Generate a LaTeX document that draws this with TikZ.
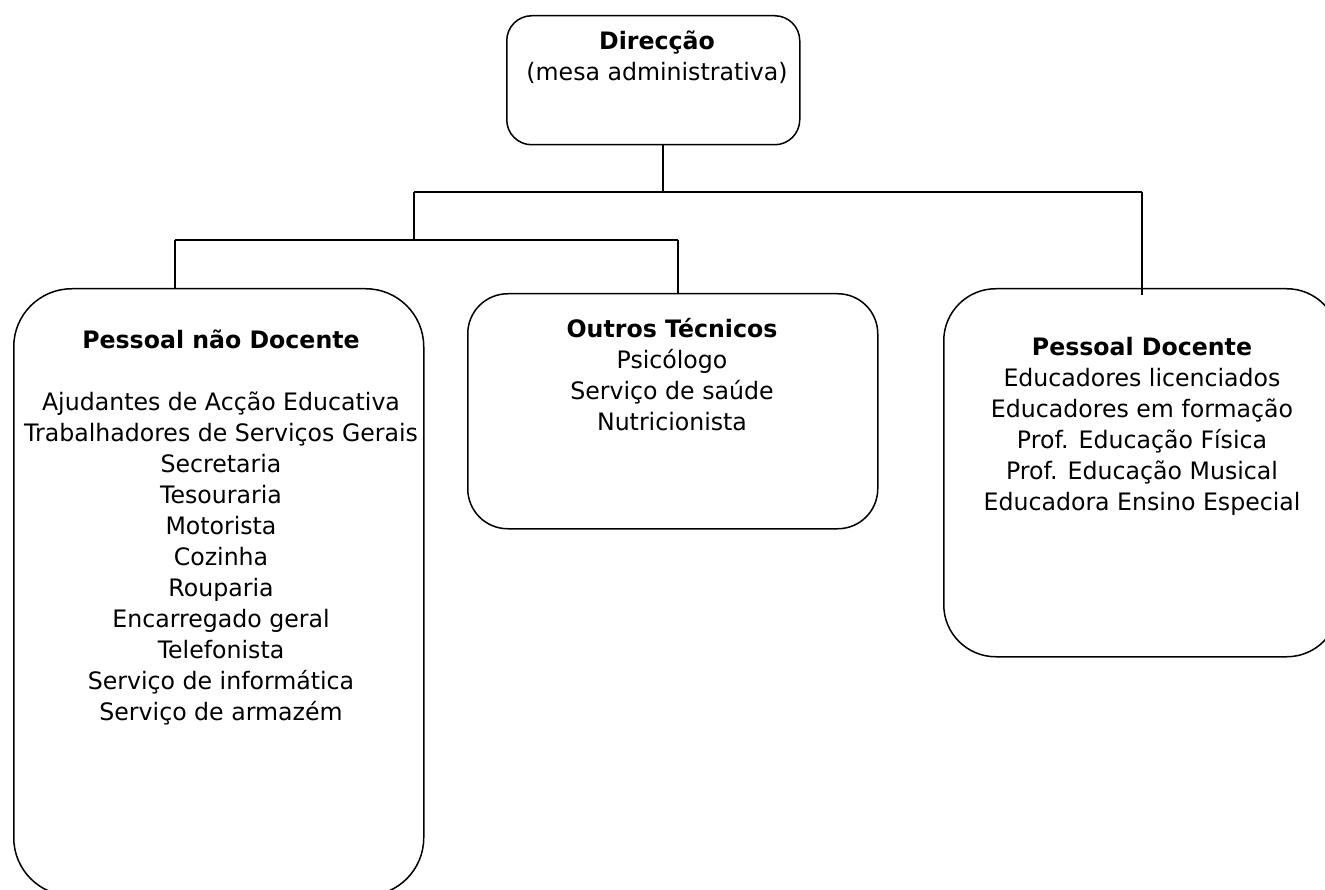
\documentclass[tikz,border=0pt]{standalone}
\usepackage{fontspec}
\setmainfont{DejaVu Sans}[FakeStretch=0.985]
\begin{document}
\begin{tikzpicture}[x=1pt,y=-1pt,
  box/.style={draw,line width=1.5pt,inner sep=0pt,anchor=north west},
  txt/.style={align=center,inner sep=0pt,font=\fontsize{24}{31}\selectfont},
  conn/.style={draw,line width=1.4pt}]
\useasboundingbox (0,0) rectangle (1325,890);
% boxes
\node[box,rounded corners=25pt,minimum width=293pt,minimum height=129pt] (dir) at (506,15) {};
\node[box,rounded corners=58pt,minimum width=410pt,minimum height=607pt] (pnd) at (13,288) {};
\node[box,rounded corners=40pt,minimum width=410pt,minimum height=235pt] (ot) at (467,293) {};
\node[box,rounded corners=52pt,minimum width=395pt,minimum height=368pt] (pd) at (943,288) {};
% texts
\node[txt] (dirt) at (657,57) {\textbf{Direcção}\\(mesa administrativa)};
\node[txt] (pndt) at (221,527) {\textbf{Pessoal não Docente}\\[31pt]Ajudantes de Acção Educativa\\Trabalhadores de Serviços Gerais\\Secretaria\\Tesouraria\\Motorista\\Cozinha\\Rouparia\\Encarregado geral\\Telefonista\\Serviço de informática\\Serviço de armazém};
\node[txt] (ott) at (672,375) {\textbf{Outros Técnicos}\\Psicólogo\\Serviço de saúde\\Nutricionista};
\node[txt] (pdt) at (1142,426) {\textbf{Pessoal Docente}\\Educadores licenciados\\Educadores em formação\\Prof. Educação Física\\Prof. Educação Musical\\Educadora Ensino Especial};
% junctions
\coordinate (j0) at (663,192);
\coordinate (jl) at (414,192);
\coordinate (jr) at (1142,192);
\coordinate (jl2) at (414,240);
\coordinate (ja) at (175,240);
\coordinate (jb) at (678,240);
\coordinate (je) at (1142,295);
% connectors
\draw[conn] (j0 |- dir.south) -- (j0);
\draw[conn] (jl) -- (jr);
\draw[conn] (jl) -- (jl2);
\draw[conn] (ja) -- (jb);
\draw[conn] (ja) -- (ja |- pnd.north);
\draw[conn] (jb) -- (jb |- ot.north);
\draw[conn] (jr) -- (je);
\end{tikzpicture}
\end{document}
